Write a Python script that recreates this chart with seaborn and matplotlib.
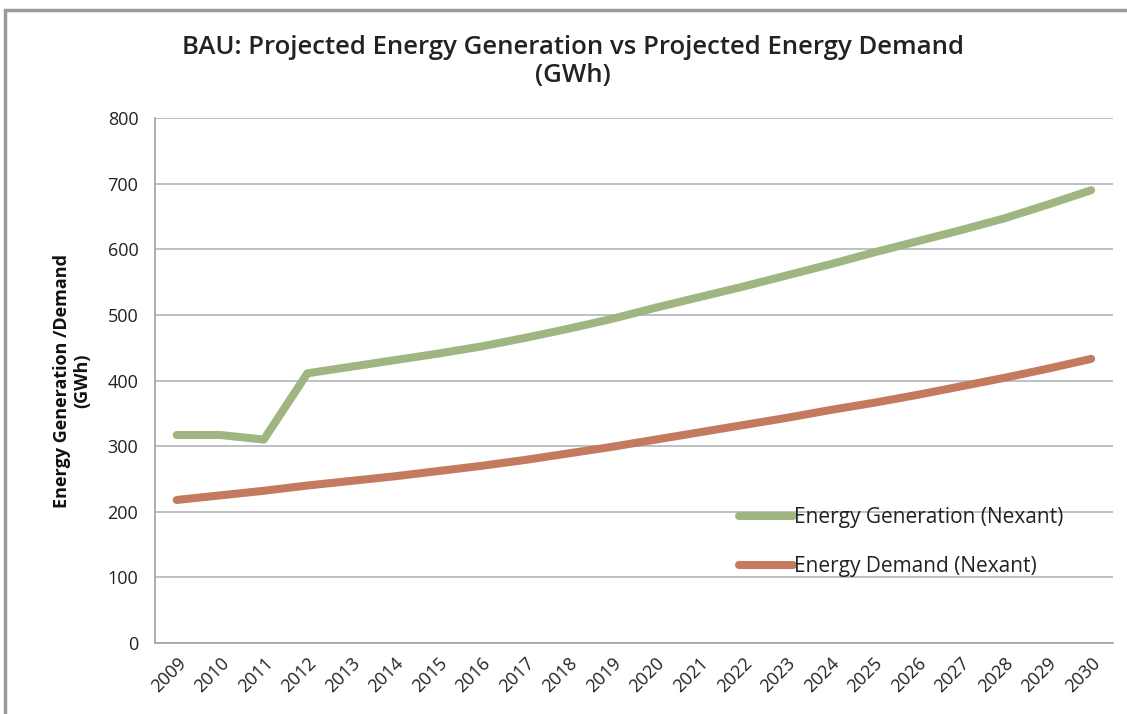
"""BAU projected energy generation vs demand line chart."""
import matplotlib
matplotlib.use("Agg")
import matplotlib.pyplot as plt
from matplotlib.patches import Rectangle
import numpy as np
import pandas as pd
import seaborn as sns

years = list(range(2009, 2031))
generation = [317, 317, 310, 411, 421, 431, 441, 452, 465, 479, 494,
              511, 527, 543, 560, 577, 595, 612, 629, 647, 668, 690]
demand = [218, 225, 232, 240, 247, 254, 262, 270, 279, 289, 299,
          310, 321, 332, 343, 355, 366, 378, 391, 404, 418, 433]
series_names = ["Energy Generation (Nexant)", "Energy Demand (Nexant)"]
colors = ["#a0b682", "#c47a5f"]

df = pd.DataFrame({
    "Year": years * 2,
    "Value": generation + demand,
    "Series": [series_names[0]] * len(years) + [series_names[1]] * len(years),
})

sns.set_style("white")
plt.rcParams["font.family"] = ["Open Sans", "DejaVu Sans"]

fig = plt.figure(figsize=(11.27, 7.14), dpi=100)
ax = fig.add_axes([0.1375, 0.0994, 0.85, 0.7353])

sns.lineplot(data=df, x="Year", y="Value", hue="Series", palette=colors,
             linewidth=5.8, ax=ax, solid_capstyle="round")

ax.set_xlim(2008.5, 2030.5)
ax.set_ylim(0, 800)
ax.set_yticks(range(0, 801, 100))
ax.set_xticks(years)
ax.set_xticklabels([str(y) for y in years], rotation=45, ha="right",
                   rotation_mode="anchor", fontsize=13, color="#222222")
ax.set_xticks(np.arange(2008.5, 2031, 1), minor=True)
ax.tick_params(axis="x", which="major", length=0, pad=8)
ax.tick_params(axis="x", which="minor", length=6, color="#999999", width=1, direction="out")
ax.tick_params(axis="y", length=6, color="#999999", labelsize=13, labelcolor="#222222", pad=6)
ax.yaxis.grid(True, color="#b4b4bc", linewidth=1.2)
ax.xaxis.grid(False)
for side in ["top", "right"]:
    ax.spines[side].set_visible(False)
for side in ["left", "bottom"]:
    ax.spines[side].set_color("#a0a0a8")
    ax.spines[side].set_linewidth(1.2)

ax.set_xlabel("")
ax.set_ylabel("Energy Generation /Demand\n(GWh)", fontsize=13, fontweight="bold",
              color="#111111", labelpad=12, linespacing=1.1)

fig.text(0.508, 0.914, "BAU: Projected Energy Generation vs Projected Energy Demand\n(GWh)",
         ha="center", va="center", fontsize=18.5, fontweight="semibold",
         color="#222222", linespacing=1.15)

leg = ax.legend(loc="upper left", bbox_to_anchor=(0.59, 0.295), frameon=False,
                fontsize=15, handlelength=2.6, handletextpad=0.05, labelspacing=1.35)
for t in leg.get_texts():
    t.set_color("#222222")

# outer chart border (top and left edges visible)
fig.patches.append(Rectangle((5 / 1127, -0.1), 1.2, 1 - 10 / 714 + 0.1,
                             transform=fig.transFigure, fill=False,
                             edgecolor="#9a9a9a", linewidth=2.5))

fig.savefig("out.png", dpi=100)
